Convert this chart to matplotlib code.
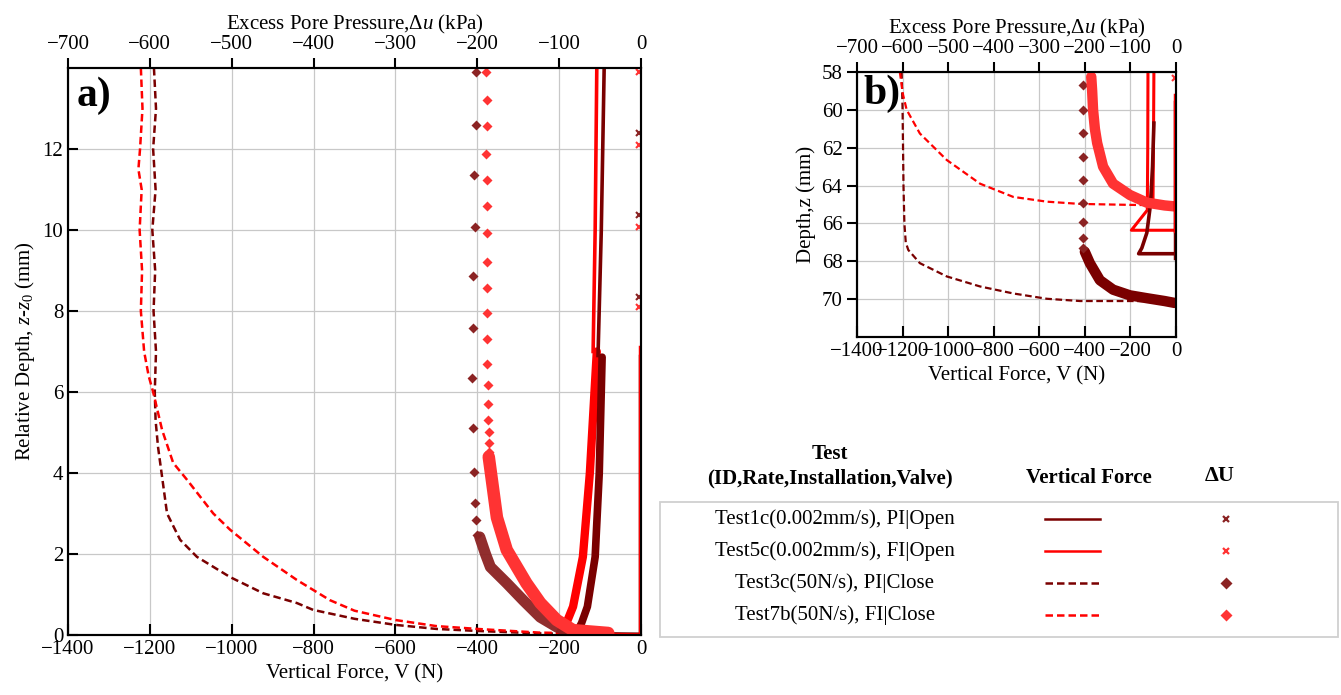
import numpy as np
import matplotlib
matplotlib.use('Agg')
import matplotlib.pyplot as plt
from matplotlib.patches import Rectangle

plt.rcParams['font.family'] = ['Liberation Serif', 'DejaVu Serif']
plt.rcParams['mathtext.fontset'] = 'custom'
plt.rcParams['mathtext.rm'] = 'Liberation Serif'
plt.rcParams['mathtext.it'] = 'Liberation Serif:italic'
plt.rcParams['mathtext.bf'] = 'Liberation Serif:bold'

DARK = '#7a0000'
RED = '#ff0000'
DARK_D = '#8b2323'
RED_D = '#ff3333'

# ---------------- panel a) relative depth ----------------
# vertical force, Test3c (50N/s, PI, close) dashed
za_3c = [14.0, 13.0, 12.0, 11.0, 10.0, 9.0, 8.0, 7.0, 6.0, 5.3, 4.64, 3.0, 2.35, 1.93, 1.43,
         1.03, 0.79, 0.62, 0.4, 0.25, 0.15, 0.1, 0.04, 0.01]
Va_3c = [-1190, -1185, -1192, -1186, -1194, -1187, -1191, -1185, -1188, -1186, -1180, -1158, -1126,
         -1085, -1004, -923, -841, -801, -700, -600, -500, -400, -250, 0]
# vertical force, Test7b (50N/s, FI, close) dashed
za_7b = [14.0, 13.0, 12.0, 11.5, 11.0, 10.0, 9.0, 8.0, 7.0, 6.4, 6.0, 5.06, 4.25, 3.83, 3.0, 2.6,
         1.93, 1.36, 0.86, 0.6, 0.37, 0.22, 0.15, 0.06, 0.01]
Va_7b = [-1222, -1218, -1224, -1228, -1220, -1225, -1219, -1222, -1214, -1203, -1192, -1170, -1143,
         -1109, -1045, -1004, -923, -841, -760, -700, -600, -500, -400, -250, 0]
# vertical force, Test1c / Test5c (0.002mm/s, open) solid
za_1c_top = [14.0, 10.0, 6.9]
Va_1c_top = [-90, -97, -105]
za_1c_band = [6.86, 4.0, 1.93, 0.7, 0.3, 0.12, 0.05]
Va_1c_band = [-95, -102, -112, -131, -145, -154, -165]
za_5c_top = [14.0, 10.0, 7.0]
Va_5c_top = [-108, -112, -117]
za_5c_band = [7.0, 4.0, 1.93, 0.7, 0.2, 0.06]
Va_5c_band = [-108, -125, -142, -166, -186, -198]
za_base = [0.04, 0.02]
Va_base = [-200, 0]

# excess pore pressure, Test3c diamonds
za_u3c = [13.9, 12.6, 11.35, 10.07, 8.86, 7.59, 6.35, 5.11, 4.03, 3.26, 2.84, 2.47]
ua_u3c = [-201, -201, -204, -203, -205, -205, -206, -205, -204, -203, -202, -200]
za_u3c_band = [2.42, 2.0, 1.68, 1.28, 0.86, 0.44, 0.2, 0.08]
ua_u3c_band = [-197, -190, -184, -164, -144, -123, -103, -86]
# excess pore pressure, Test7b diamonds
za_u7b = [13.9, 13.21, 12.57, 11.88, 11.23, 10.6, 9.93, 9.22, 8.57, 7.96, 7.3, 6.69, 6.17, 5.7,
          5.3, 5.02, 4.75, 4.53]
ua_u7b = [-189, -188, -188, -189, -188, -188, -188, -188, -188, -188, -188, -188, -187, -187,
          -187, -186, -186, -186]
za_u7b_band = [4.4, 4.25, 2.9, 2.1, 1.28, 0.79, 0.37, 0.12, 0.05]
ua_u7b_band = [-186, -185, -176, -164, -140, -123, -103, -83, -40]
# excess pore pressure, Test1c / Test5c crosses
za_u1c = [12.4, 10.37, 8.35]
ua_u1c = [-2, -2, -2]
za_u1c_line = [0.0, 6.9]
ua_u1c_line = [-1, -1]
za_u5c = [13.9, 12.1, 10.07, 8.1]
ua_u5c = [-2, -2, -2, -2]
za_u5c_line = [0.0, 7.1]
ua_u5c_line = [-1.5, -1.5]

# ---------------- panel b) depth ----------------
zb_3c = [58.0, 60.0, 62.0, 64.0, 66.0, 67.0, 67.4, 68.1, 68.8, 69.33, 69.7, 69.98, 70.1, 70.1, 70.12]
Vb_3c = [-1204, -1200, -1198, -1196, -1192, -1186, -1175, -1124, -1006, -860, -714, -567, -421,
         -200, 0]
zb_7b = [58.0, 58.6, 59.2, 60.0, 61.25, 62.65, 63.9, 64.6, 64.85, 64.97, 65.02, 65.05]
Vb_7b = [-1212, -1205, -1198, -1182, -1124, -1006, -860, -714, -567, -421, -200, 0]
zb_1c = [60.7, 63.0, 65.0, 66.5, 67.3, 67.6, 67.6]
Vb_1c = [-97, -103, -112, -128, -150, -164, 0]
zb_5c = [58.0, 62.0, 65.3, 66.36, 66.36]
Vb_5c = [-123, -124, -126, -196, 0]
zb_5c_r = [58.0, 62.0, 64.8]
Vb_5c_r = [-97, -99, -101]

zb_u3c = [58.69, 60.0, 61.2, 62.5, 63.7, 64.9, 65.95, 66.78, 67.3]
ub_u3c = [-205, -205, -205, -205, -205, -205, -205, -205, -203]
zb_u3c_band = [67.5, 68.1, 69.0, 69.5, 69.8, 69.95, 70.1, 70.2]
ub_u3c_band = [-200, -189, -167, -138, -101, -64, -25, -3]
zb_u7b_band = [58.25, 59.0, 60.0, 61.0, 61.75, 63.0, 63.9, 64.5, 64.9, 65.05, 65.1]
ub_u7b_band = [-186, -184, -182, -178, -173, -160, -138, -101, -64, -25, -3]
zb_u1c_line = [59.6, 67.8]
ub_u1c_line = [-3, -3]
zb_u5c_line = [59.2, 66.4]
ub_u5c_line = [-2, -2]
zb_u5c = [58.3]
ub_u5c = [-2]

legend_labels = ['Test1c(0.002mm/s), PI|Open', 'Test5c(0.002mm/s), FI|Open',
                 'Test3c(50N/s), PI|Close', 'Test7b(50N/s), FI|Close']

W, H = 1341, 695
fig = plt.figure(figsize=(W / 100, H / 100), dpi=100)
DASH = (0, (3, 1.6))


def setup(ax, axt, yticks, left_dir):
    ax.set_xlim(-1400, 0)
    axt.set_xlim(-700, 0)
    ax.set_xticks(np.arange(-1400, 1, 200))
    axt.set_xticks(np.arange(-700, 1, 100))
    ax.set_yticks(yticks)
    ax.grid(True, color='#c8c8c8', lw=0.9)
    ax.set_axisbelow(True)
    ax.tick_params(axis='x', direction='in', length=8, width=1.5, labelsize=15, top=False)
    ax.tick_params(axis='y', direction=left_dir, length=7, width=1.5, labelsize=15, right=False)
    axt.tick_params(axis='x', direction='out', length=7, width=1.5, labelsize=15, pad=3)
    for a in (ax, axt):
        for s in a.spines.values():
            s.set_linewidth(1.5)
    ax.set_xlabel('Vertical Force, V (N)', fontsize=15, labelpad=4)
    axt.set_xlabel(r'Excess Pore Pressure,$\Delta u$ (kPa)', fontsize=15, labelpad=4)


# ---- panel a
ax = fig.add_axes([68 / W, 1 - 635 / H, 573 / W, 567 / H])
axt = ax.twiny()
ax.set_ylim(0, 14)
setup(ax, axt, np.arange(0, 13, 2), 'in')
ax.set_ylabel(r'Relative Depth, $z$-$z_0$ (mm)', fontsize=15, labelpad=4)

ax.plot(Va_3c, za_3c, color=DARK, ls=DASH, lw=1.8)
ax.plot(Va_7b, za_7b, color=RED, ls=DASH, lw=1.8)
ax.plot(Va_base, za_base, color=DARK, lw=2.5)
ax.plot(Va_base, za_base, color=RED, lw=1.5)
ax.plot(Va_5c_band, za_5c_band, color=RED, lw=6, solid_capstyle='round')
ax.plot(Va_1c_band, za_1c_band, color=DARK, lw=5.5, solid_capstyle='round')
ax.plot(Va_5c_top, za_5c_top, color=RED, lw=2.6)
ax.plot(Va_1c_top, za_1c_top, color=DARK, lw=2.6)

axt.plot(ua_u3c_band, za_u3c_band, color=DARK_D, lw=8, solid_capstyle='round', alpha=0.95)
axt.plot(ua_u3c, za_u3c, ls='none', marker='D', ms=5.5, color=DARK_D, mec='none')
axt.plot(ua_u7b_band, za_u7b_band, color=RED_D, lw=9, solid_capstyle='round')
axt.plot(ua_u7b, za_u7b, ls='none', marker='D', ms=5.5, color=RED_D, mec='none')
axt.plot(ua_u1c_line, za_u1c_line, color=DARK, lw=2.5)
axt.plot(ua_u5c_line, za_u5c_line, color=RED, lw=2.5)
axt.plot(ua_u1c, za_u1c, ls='none', marker='x', ms=4, mew=1.5, color=DARK_D)
axt.plot(ua_u5c, za_u5c, ls='none', marker='x', ms=4, mew=1.5, color=RED_D)
ax.text(0.015, 0.985, 'a)', transform=ax.transAxes, ha='left', va='top',
        fontsize=30, fontweight='bold')

# ---- panel b
bx = fig.add_axes([857 / W, 1 - 337 / H, 319 / W, 265 / H])
bxt = bx.twiny()
bx.set_ylim(72, 58)
setup(bx, bxt, np.arange(58, 71, 2), 'out')
bx.set_ylabel('Depth,z (mm)', fontsize=15, labelpad=4)

bx.plot(Vb_3c, zb_3c, color=DARK, ls=DASH, lw=1.6)
bx.plot(Vb_7b, zb_7b, color=RED, ls=DASH, lw=1.6)
bx.plot(Vb_5c, zb_5c, color=RED, lw=2.2)
bx.plot(Vb_5c_r, zb_5c_r, color=RED, lw=2.2)
bx.plot(Vb_1c, zb_1c, color=DARK, lw=2.6)

bxt.plot(ub_u3c_band, zb_u3c_band, color=DARK, lw=7.5, solid_capstyle='round')
bxt.plot(ub_u3c, zb_u3c, ls='none', marker='D', ms=5.5, color=DARK_D, mec='none')
bxt.plot(ub_u7b_band, zb_u7b_band, color=RED_D, lw=7.5, solid_capstyle='round')
bxt.plot(ub_u1c_line, zb_u1c_line, color=DARK, lw=2.5)
bxt.plot(ub_u5c_line, zb_u5c_line, color=RED, lw=2.5)
bxt.plot(ub_u5c, zb_u5c, ls='none', marker='x', ms=4, mew=1.5, color=RED_D)
bx.text(0.02, 0.99, 'b)', transform=bx.transAxes, ha='left', va='top',
        fontsize=30, fontweight='bold')

# ---- custom table legend
lx = fig.add_axes([660 / W, 1 - 637 / H, 678 / W, 135 / H])
lx.set_xlim(0, 1)
lx.set_ylim(0, 1)
lx.axis('off')
lx.add_patch(Rectangle((0, 0), 1, 1, fill=False, ec='#d0d0d0', lw=1.3,
                       transform=lx.transAxes, clip_on=False))
line_cols = [DARK, RED, DARK, RED]
mark_cols = [DARK_D, RED_D, DARK_D, RED_D]
styles = ['-', '-', DASH, DASH]
marks = ['x', 'x', 'D', 'D']
for i, lab in enumerate(legend_labels):
    y = 0.874 - i * 0.237
    lx.text(0.258, y, lab, ha='center', va='center', fontsize=15)
    lx.plot([0.568, 0.649], [y, y], color=line_cols[i], ls=styles[i], lw=1.8)
    if marks[i] == 'x':
        lx.plot([0.835], [y], marker='x', ms=4, mew=1.6, color=mark_cols[i], ls='none')
    else:
        lx.plot([0.835], [y], marker='D', ms=6, color=mark_cols[i], mec='none', ls='none')

fig.text(830 / W, 1 - 454 / H, 'Test', ha='center', va='center', fontsize=15, fontweight='bold')
fig.text(830 / W, 1 - 478 / H, '(ID,Rate,Installation,Valve)', ha='center', va='center',
         fontsize=15, fontweight='bold')
fig.text(1089 / W, 1 - 478 / H, 'Vertical Force', ha='center', va='center', fontsize=15,
         fontweight='bold')
fig.text(1220 / W, 1 - 476 / H, 'ΔU', ha='center', va='center', fontsize=16, fontweight='bold')

fig.savefig('out.png', dpi=100)
